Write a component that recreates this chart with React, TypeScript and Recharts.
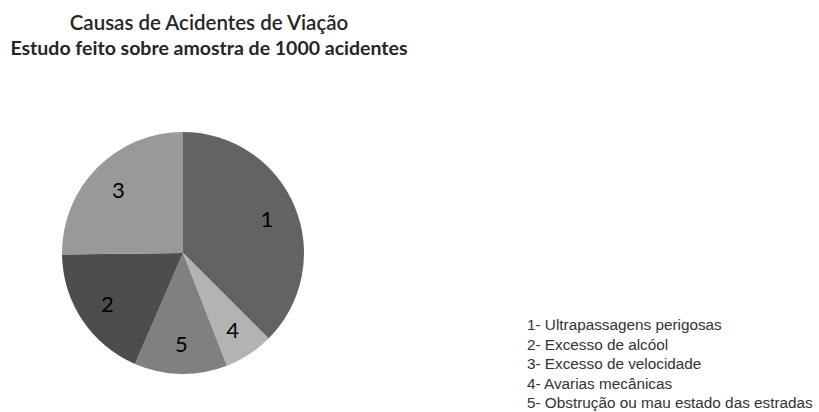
import React from 'react';
import { PieChart, Pie, Cell, Legend } from 'recharts';

// pie order, clockwise from 12 o'clock
const sliceIds = ['1', '4', '5', '2', '3'];
const sliceValues = [375, 66, 124, 183, 252];
const sliceColors = ['#636363', '#b3b3b3', '#808080', '#4d4d4d', '#999999'];

const legendLines = [
  '1- Ultrapassagens perigosas',
  '2- Excesso de alcóol',
  '3- Excesso de velocidade',
  '4- Avarias mecânicas',
  '5- Obstrução ou mau estado das estradas',
];

const chartData = sliceIds.map((id, i) => ({
  name: id,
  value: sliceValues[i],
  color: sliceColors[i],
}));

const RADIAN = Math.PI / 180;

const renderLabel = ({ cx, cy, midAngle, outerRadius, name }: any) => {
  const r = outerRadius * 0.75;
  const x = cx + r * Math.cos(-midAngle * RADIAN);
  const y = cy + r * Math.sin(-midAngle * RADIAN);
  return (
    <text
      x={x}
      y={y}
      fill="#000"
      fontSize={22}
      fontFamily="Lato, sans-serif"
      textAnchor="middle"
      dominantBaseline="central"
    >
      {name}
    </text>
  );
};

const renderLegend = () => (
  <div style={{ fontFamily: '"Liberation Sans", Arial, sans-serif', fontSize: 15.3, color: '#333', lineHeight: '19.5px', whiteSpace: 'nowrap' }}>
    {legendLines.map(line => (
      <div key={line}>{line}</div>
    ))}
  </div>
);

const App = () => {
  return (
    <div style={{ position: 'absolute', left: 0, top: 0, width: 819, height: 412, background: '#fff' }}>
      <div
        style={{
          position: 'absolute',
          left: 0,
          width: 418,
          top: 9,
          textAlign: 'center',
          fontFamily: 'Lato, sans-serif',
          color: '#262626',
          whiteSpace: 'nowrap',
        }}
      >
        <div style={{ fontSize: 20.5, fontWeight: 600, lineHeight: '26px' }}>Causas de Acidentes de Viação</div>
        <div style={{ fontSize: 19.5, fontWeight: 700, lineHeight: '26px' }}>Estudo feito sobre amostra de 1000 acidentes</div>
      </div>
      <PieChart
        width={819}
        height={412}
        margin={{ top: 0, right: 0, bottom: 0, left: 0 }}
        style={{ position: 'absolute', left: 0, top: 0 }}
      >
        <Pie
          data={chartData}
          dataKey="value"
          cx={183}
          cy={253}
          outerRadius={121}
          startAngle={90}
          endAngle={-270}
          stroke="none"
          labelLine={false}
          label={renderLabel}
          isAnimationActive={false}
        >
          {chartData.map((entry, index) => (
            <Cell key={`cell-${index}`} fill={entry.color} />
          ))}
        </Pie>
        <Legend
          content={renderLegend}
          layout="vertical"
          wrapperStyle={{ position: 'absolute', left: 527, top: 315, width: 292 }}
        />
      </PieChart>
    </div>
  );
};

export default App;
